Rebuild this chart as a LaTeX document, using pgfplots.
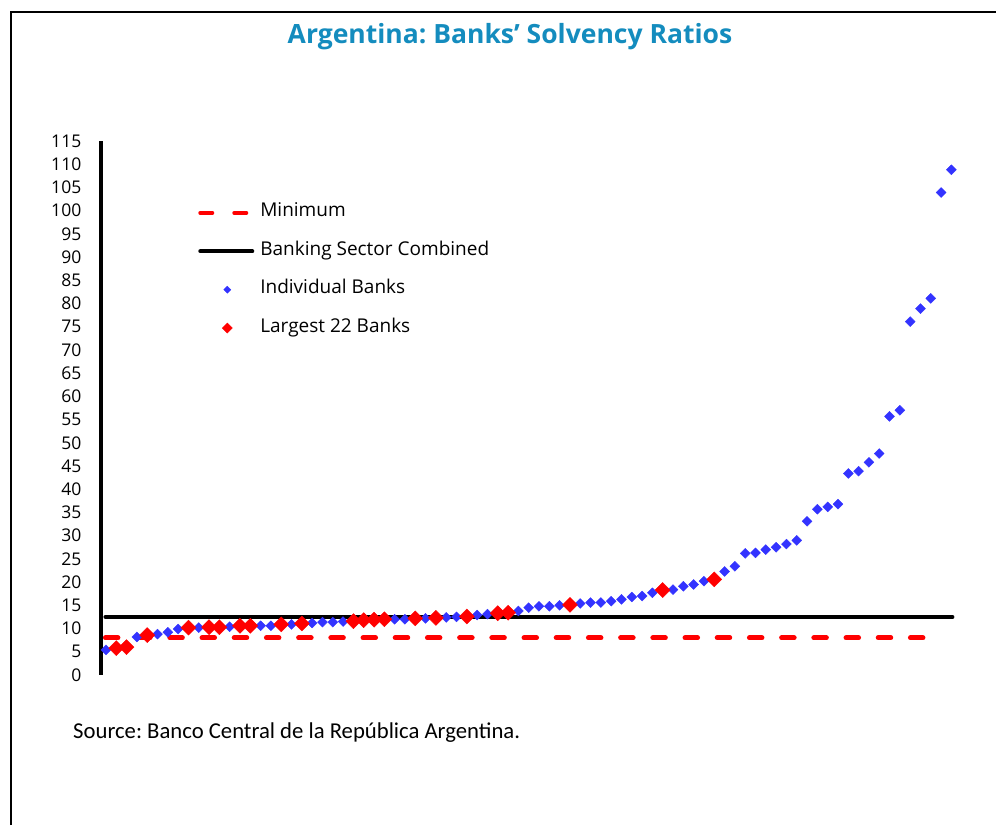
\documentclass[border=0pt]{standalone}
\usepackage{pgfplots}
\pgfplotsset{compat=1.18}
\usepackage{fontspec}
\setmainfont{Open Sans}
\newfontfamily\carlito{Carlito}
\definecolor{titleblue}{RGB}{20,140,190}
\definecolor{bankblue}{RGB}{51,51,255}
\definecolor{bankred}{RGB}{255,0,0}
\frenchspacing
\pgfplotsset{
  minleg/.style={legend image code/.code={\draw[##1, line width=4pt, dash pattern=on 12pt off 22pt] (0pt,0pt) -- (46pt,0pt);}},
  combleg/.style={legend image code/.code={\draw[##1] (0pt,0pt) -- (52pt,0pt);}},
  blueleg/.style={legend image code/.code={\draw[##1, mark size=2.5pt] plot coordinates {(27pt,0pt)};}},
  redleg/.style={legend image code/.code={\draw[##1, mark size=3.6pt] plot coordinates {(27pt,0pt)};}},
}
\begin{document}
\begin{tikzpicture}
\path[use as bounding box] (0,0) rectangle (996pt,825pt);
\draw[line width=2.2pt] (11pt,0) -- (11pt,813pt) -- (996pt,813pt);
\node[font=\fontsize{26.5}{30}\selectfont\bfseries, text=titleblue] at (510pt,788pt) {Argentina: Banks’ Solvency Ratios};
\node[anchor=west, font=\carlito\fontsize{22.7}{26}\selectfont, inner sep=0pt] at (73pt,92pt) {Source: Banco Central de la República Argentina.};
\begin{axis}[
 at={(100.8pt,150pt)}, anchor=south west,
 scale only axis, width=860.9pt, height=534pt,
 xmin=0.5, xmax=84, ymin=0, ymax=115,
 axis x line=none, axis y line*=left,
 y axis line style={line width=4pt, -},
 ytick={0,5,...,115}, major tick length=0pt,
 yticklabel style={font=\fontsize{17.5}{19}\selectfont, xshift=-16pt},
 /pgf/number format/assume math mode=true,
 clip=false,
 legend style={at={(0.113,0.7575)}, anchor=west, draw=none, fill=none, inner sep=0pt,
   font=\fontsize{19}{22}\selectfont, row sep=22.4pt,
   nodes={inner sep=0pt, text height=12pt, text depth=4pt},
   /tikz/every odd column/.style={column sep=6pt}},
 legend cell align=left,
]
\addplot[bankred, line width=5pt, dash pattern=on 12.5pt off 19.7pt, line cap=round, minleg]
  coordinates {(0.95,8) (81.2,8)};
\addlegendentry{Minimum}
\addplot[black, line width=4pt, line cap=round, combleg]
  coordinates {(0.95,12.5) (83.1,12.5)};
\addlegendentry{Banking Sector Combined}
\addplot[only marks, color=bankblue, mark=square*, mark size=3.5pt,
  mark options={rotate=45, fill=bankblue, draw=none}, blueleg]
  table[row sep=\\] {
x y\\
1 5.4\\ 2 5.8\\ 3 6.0\\ 4 8.2\\ 5 8.6\\ 6 8.8\\ 7 9.2\\ 8 9.9\\ 9 10.2\\ 10 10.2\\
11 10.3\\ 12 10.3\\ 13 10.4\\ 14 10.6\\ 15 10.6\\ 16 10.6\\ 17 10.6\\ 18 10.9\\ 19 10.9\\ 20 11.1\\
21 11.2\\ 22 11.4\\ 23 11.4\\ 24 11.5\\ 25 11.6\\ 26 11.8\\ 27 11.9\\ 28 12.0\\ 29 12.0\\ 30 12.0\\
31 12.2\\ 32 12.2\\ 33 12.3\\ 34 12.4\\ 35 12.5\\ 36 12.6\\ 37 12.9\\ 38 13.1\\ 39 13.3\\ 40 13.4\\
41 13.8\\ 42 14.5\\ 43 14.8\\ 44 14.8\\ 45 15.0\\ 46 15.1\\ 47 15.4\\ 48 15.6\\ 49 15.6\\ 50 15.9\\
51 16.3\\ 52 16.8\\ 53 17.0\\ 54 17.7\\ 55 18.3\\ 56 18.4\\ 57 19.1\\ 58 19.5\\ 59 20.2\\ 60 20.6\\
61 22.3\\ 62 23.4\\ 63 26.2\\ 64 26.3\\ 65 27.0\\ 66 27.5\\ 67 28.2\\ 68 29.0\\ 69 33.1\\ 70 35.7\\
71 36.2\\ 72 36.8\\ 73 43.4\\ 74 43.9\\ 75 45.8\\ 76 47.7\\ 77 55.7\\ 78 57.0\\ 79 76.1\\ 80 78.9\\
81 81.1\\ 82 103.9\\ 83 108.8\\
};
\addlegendentry{Individual Banks}
\addplot[only marks, color=bankred, mark=square*, mark size=5.3pt,
  mark options={rotate=45, fill=bankred, draw=none}, redleg]
  table[row sep=\\] {
x y\\
2 5.8\\ 3 6.0\\ 5 8.6\\ 9 10.2\\ 11 10.3\\ 12 10.3\\ 14 10.6\\ 15 10.6\\ 18 10.9\\ 20 11.1\\
25 11.6\\ 26 11.8\\ 27 11.9\\ 28 12.0\\ 31 12.2\\ 33 12.3\\ 36 12.6\\ 39 13.3\\ 40 13.4\\ 46 15.1\\
55 18.3\\ 60 20.6\\
};
\addlegendentry{Largest 22 Banks}
\end{axis}
\end{tikzpicture}
\end{document}
